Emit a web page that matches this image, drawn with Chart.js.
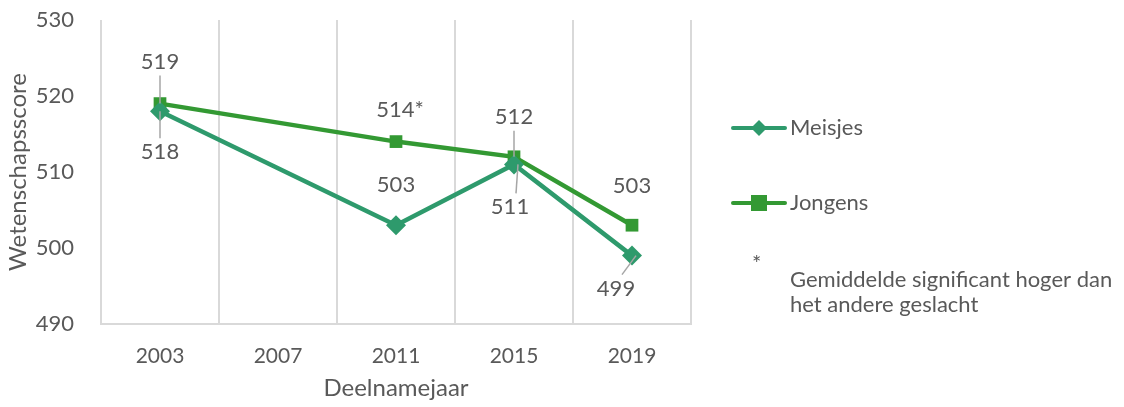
<!DOCTYPE html>
<html>
<head>
<meta charset="utf-8">
<script src="https://cdn.jsdelivr.net/npm/chart.js@4"></script>
<style>
  html, body { margin: 0; padding: 0; background: #fff; }
  #wrap { width: 1124px; height: 407px; position: relative; }
</style>
</head>
<body>
<div id="wrap"><canvas id="scores" width="1124" height="407"></canvas></div>
<script>
var years = ["2003", "2007", "2011", "2015", "2019"];
var meisjes = [518, null, 503, 511, 499];
var jongens = [519, null, 514, 512, 503];
var meisjesLabels = ["518", null, "503", "511", "499"];
var jongensLabels = ["519", null, "514*", "512", "503"];
var yTicks = [490, 500, 510, 520, 530];

var meisjesColor = "#2E9A6C";
var jongensColor = "#339933";
var textColor = "#595959";
var fontFamily = "Lato, 'Open Sans', sans-serif";

// where each data label goes relative to its point
var labelPlacement = [
    [{dx: 0, dy: 41, lead: true}, null, {dx: 0, dy: -40}, {dx: -4, dy: 43, lead: true}, {dx: -16, dy: 33, lead: true}],
    [{dx: 0, dy: -42, lead: true}, null, {dx: 4, dy: -32}, {dx: 0, dy: -40, lead: true}, {dx: 0, dy: -39}]
];
var allLabels = [meisjesLabels, jongensLabels];

var dataLabels = {
    id: "dataLabels",
    afterDatasetsDraw: function(chart) {
        var ctx = chart.ctx;
        ctx.save();
        ctx.font = "22px " + fontFamily;
        ctx.fillStyle = textColor;
        ctx.textAlign = "center";
        ctx.textBaseline = "middle";
        chart.data.datasets.forEach(function(ds, d) {
            var meta = chart.getDatasetMeta(d);
            allLabels[d].forEach(function(txt, i) {
                var p = labelPlacement[d][i];
                if (!txt || !p) return;
                var pt = meta.data[i];
                var lx = pt.x + p.dx, ly = pt.y + p.dy;
                if (p.lead) {
                    ctx.strokeStyle = "#a6a6a6";
                    ctx.lineWidth = 1.5;
                    ctx.beginPath();
                    var sy = p.dy > 0 ? ly - 14 : ly + 14;
                    var sx = p.dx !== 0 ? lx + (p.dx < 0 ? 6 : -6) : lx;
                    ctx.moveTo(sx, sy);
                    ctx.lineTo(pt.x + (p.dx < 0 ? 4 : 0), pt.y);
                    ctx.stroke();
                }
                ctx.fillText(txt, lx, ly);
            });
        });
        ctx.restore();
    }
};

var sideLegend = {
    id: "sideLegend",
    afterDraw: function(chart) {
        var ctx = chart.ctx;
        ctx.save();
        var rows = [128, 203];
        ctx.font = "22px " + fontFamily;
        chart.data.datasets.forEach(function(ds, d) {
            var y = rows[d];
            ctx.strokeStyle = ds.borderColor;
            ctx.lineWidth = 4;
            ctx.lineCap = "round";
            ctx.beginPath();
            ctx.moveTo(733, y);
            ctx.lineTo(785, y);
            ctx.stroke();
            ctx.fillStyle = ds.borderColor;
            if (ds.pointStyle === "rectRot") {
                ctx.beginPath();
                ctx.moveTo(759, y - 8);
                ctx.lineTo(767, y);
                ctx.lineTo(759, y + 8);
                ctx.lineTo(751, y);
                ctx.closePath();
                ctx.fill();
            } else {
                ctx.fillRect(751, y - 8, 16, 16);
            }
            ctx.fillStyle = textColor;
            ctx.textBaseline = "middle";
            ctx.textAlign = "left";
            ctx.fillText(ds.label, 790, y);
        });
        ctx.fillStyle = textColor;
        ctx.textBaseline = "middle";
        ctx.fillText("*", 752, 264);
        ctx.fillText("Gemiddelde significant hoger dan", 790, 280);
        ctx.fillText("het andere geslacht", 790, 305);
        ctx.restore();
    }
};

var chart = new Chart(document.getElementById("scores"), {
    type: "line",
    data: {
        labels: years,
        datasets: [{
            label: "Meisjes",
            data: meisjes,
            borderColor: meisjesColor,
            backgroundColor: meisjesColor,
            borderWidth: 4.5,
            pointStyle: "rectRot",
            pointRadius: 10,
            pointBorderWidth: 0,
            spanGaps: true,
            tension: 0
        }, {
            label: "Jongens",
            data: jongens,
            borderColor: jongensColor,
            backgroundColor: jongensColor,
            borderWidth: 4.5,
            pointStyle: "rect",
            pointRadius: 9,
            pointBorderWidth: 0,
            spanGaps: true,
            tension: 0
        }]
    },
    options: {
        responsive: false,
        animation: false,
        layout: { padding: { top: 20, right: 433, left: 0, bottom: 0 } },
        plugins: { legend: { display: false }, tooltip: { enabled: false } },
        scales: {
            x: {
                offset: true,
                grid: { offset: true, color: "#d9d9d9", lineWidth: 2, drawTicks: false },
                border: { display: true, color: "#d9d9d9", width: 2 },
                ticks: { color: textColor, font: { size: 21, family: fontFamily }, padding: 20 },
                title: { display: true, text: "Deelnamejaar", color: textColor, font: { size: 24, family: fontFamily }, padding: { top: 3 } },
                afterFit: function(s) { s.height = 83; }
            },
            y: {
                min: 490,
                max: 530,
                afterBuildTicks: function(s) { s.ticks = yTicks.map(function(v) { return {value: v}; }); },
                grid: { display: false },
                border: { display: false },
                ticks: { color: textColor, font: { size: 22, family: fontFamily }, padding: 19 },
                title: { display: true, text: "Wetenschapsscore", color: textColor, font: { size: 24, family: fontFamily }, padding: { bottom: 4 } },
                afterFit: function(s) { s.width = 101; s.paddingTop = 0; s.paddingBottom = 0; }
            }
        }
    },
    plugins: [dataLabels, sideLegend]
});
</script>
</body>
</html>
